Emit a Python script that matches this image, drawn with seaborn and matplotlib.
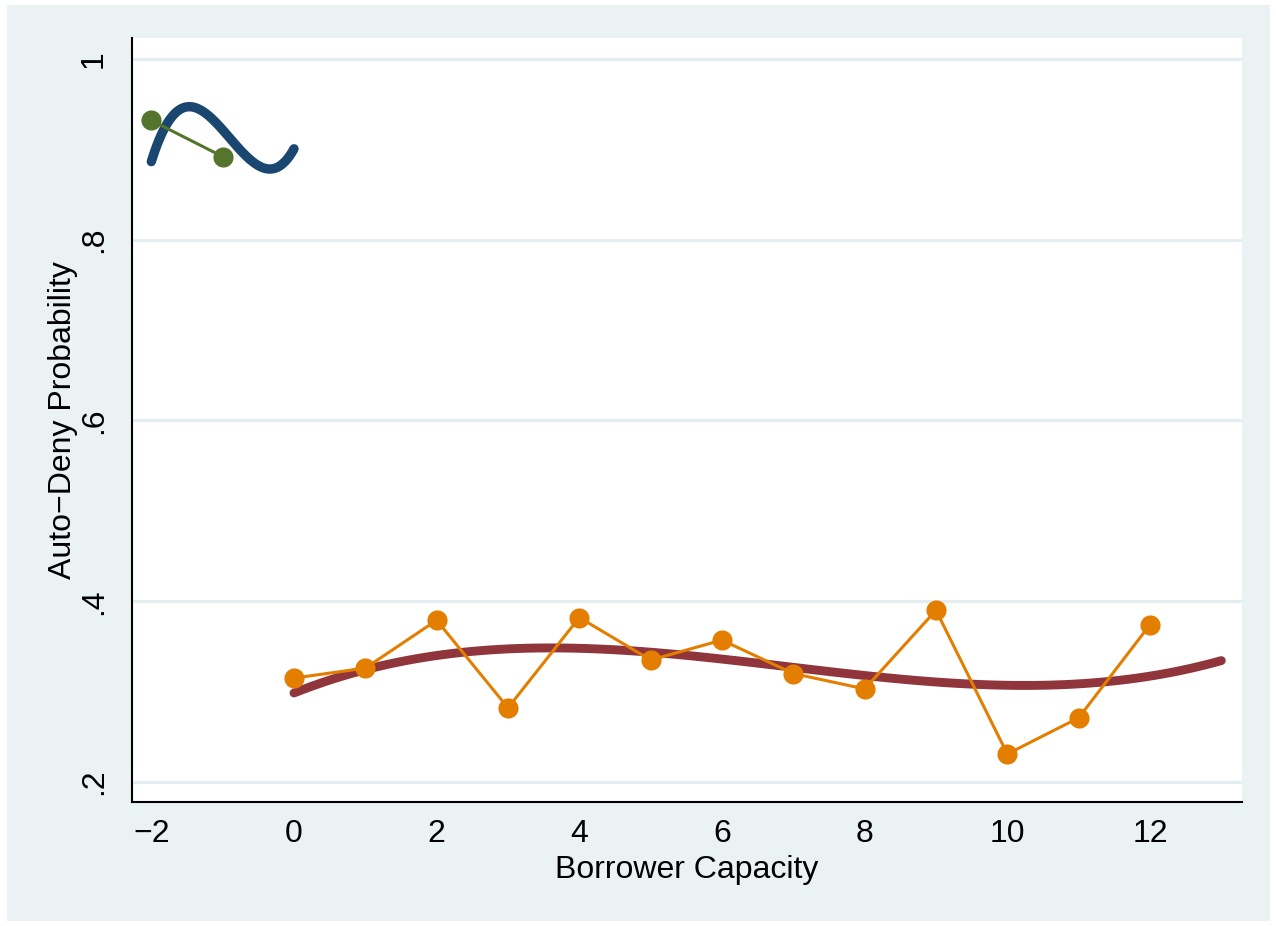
import matplotlib
matplotlib.use("Agg")
import matplotlib.pyplot as plt
import seaborn as sns
import pandas as pd
from matplotlib.patches import Rectangle

# Observed auto-deny rates by borrower capacity
low_capacity = [-2, -1]
low_rate = [0.932, 0.892]

high_capacity = [0, 1, 2, 3, 4, 5, 6, 7, 8, 9, 10, 11, 12]
high_rate = [0.315, 0.326, 0.379, 0.282, 0.382, 0.335, 0.357,
             0.320, 0.303, 0.390, 0.231, 0.271, 0.374]

# Points along the fitted curve of each capacity range
low_fit_x = [-2.0, -1.75, -1.5, -1.25, -1.0, -0.75, -0.5, -0.25, 0.0]
low_fit_y = [0.887, 0.931, 0.947, 0.941, 0.922, 0.899, 0.882, 0.879, 0.901]

high_fit_x = [0, 1, 2, 3, 4, 5, 6, 7, 8, 9, 10, 11, 12, 13]
high_fit_y = [0.300, 0.322, 0.339, 0.348, 0.350, 0.344, 0.335,
              0.326, 0.318, 0.311, 0.307, 0.308, 0.318, 0.334]

x_ticks = [-2, 0, 2, 4, 6, 8, 10, 12]
x_tick_labels = ["\u22122", "0", "2", "4", "6", "8", "10", "12"]
y_ticks = [0.2, 0.4, 0.6, 0.8, 1.0]
y_tick_labels = [".2", ".4", ".6", ".8", "1"]

NAVY = "#1a476f"
MAROON = "#90353b"
GREEN = "#55752f"
ORANGE = "#e37e00"
BG = "#eaf2f3"
GRID = "#e4edf0"

sns.set_theme(style="white")
plt.rcParams["font.family"] = ["Liberation Sans", "DejaVu Sans"]

W, H = 1276, 926
fig = plt.figure(figsize=(W / 100, H / 100), dpi=100, facecolor="white")
fig.patches.append(Rectangle((7 / W, 1 - 921 / H), (1270 - 7) / W, (921 - 5) / H,
                             transform=fig.transFigure, facecolor=BG,
                             edgecolor="none", zorder=-10))

ax = fig.add_axes([132 / W, 1 - 802 / H, (1242 - 132) / W, (802 - 38) / H])
ax.set_facecolor("white")

fit_lo = pd.DataFrame({"x": low_fit_x, "y": low_fit_y})
fit_hi = pd.DataFrame({"x": high_fit_x, "y": high_fit_y})
obs_lo = pd.DataFrame({"x": low_capacity, "y": low_rate})
obs_hi = pd.DataFrame({"x": high_capacity, "y": high_rate})

# Cubic fit lines, drawn smoothly through the curve points
sns.regplot(data=fit_lo, x="x", y="y", ax=ax, order=3, ci=None, scatter=False,
            truncate=True,
            line_kws=dict(color=NAVY, lw=6.8, solid_capstyle="round", zorder=3))
sns.regplot(data=fit_hi, x="x", y="y", ax=ax, order=3, ci=None, scatter=False,
            truncate=True,
            line_kws=dict(color=MAROON, lw=6.4, solid_capstyle="round", zorder=3))

# Connected observed points
sns.lineplot(data=obs_lo, x="x", y="y", ax=ax, color=GREEN, lw=2.2,
             marker="o", markersize=14.5, markeredgewidth=0, sort=False, zorder=4)
sns.lineplot(data=obs_hi, x="x", y="y", ax=ax, color=ORANGE, lw=2.2,
             marker="o", markersize=14.5, markeredgewidth=0, sort=False, zorder=4)

ax.set_xlim(-2.271, 13.29)
ax.set_ylim(0.2 - 20 / 904, 1 + 21 / 904)

ax.set_xticks(x_ticks)
ax.set_xticklabels(x_tick_labels)
ax.set_yticks(y_ticks)
ax.set_yticklabels(y_tick_labels, rotation=90, va="center")

ax.yaxis.grid(True, color=GRID, lw=2.2)
ax.xaxis.grid(False)
ax.set_axisbelow(True)

for side in ["top", "right"]:
    ax.spines[side].set_visible(False)
for side in ["left", "bottom"]:
    ax.spines[side].set_color("black")
    ax.spines[side].set_linewidth(1.5)

ax.tick_params(axis="both", which="major", direction="out", length=8.6,
               width=1.1, color="black", labelsize=23, labelcolor="black")
ax.tick_params(axis="x", pad=4)
ax.tick_params(axis="y", pad=8)

ax.set_xlabel("Borrower Capacity", fontsize=23, color="black", labelpad=4)
ax.set_ylabel("Auto\u2212Deny Probability", fontsize=23, color="black", labelpad=0.5)

fig.savefig("out.png", dpi=100, facecolor="white")
